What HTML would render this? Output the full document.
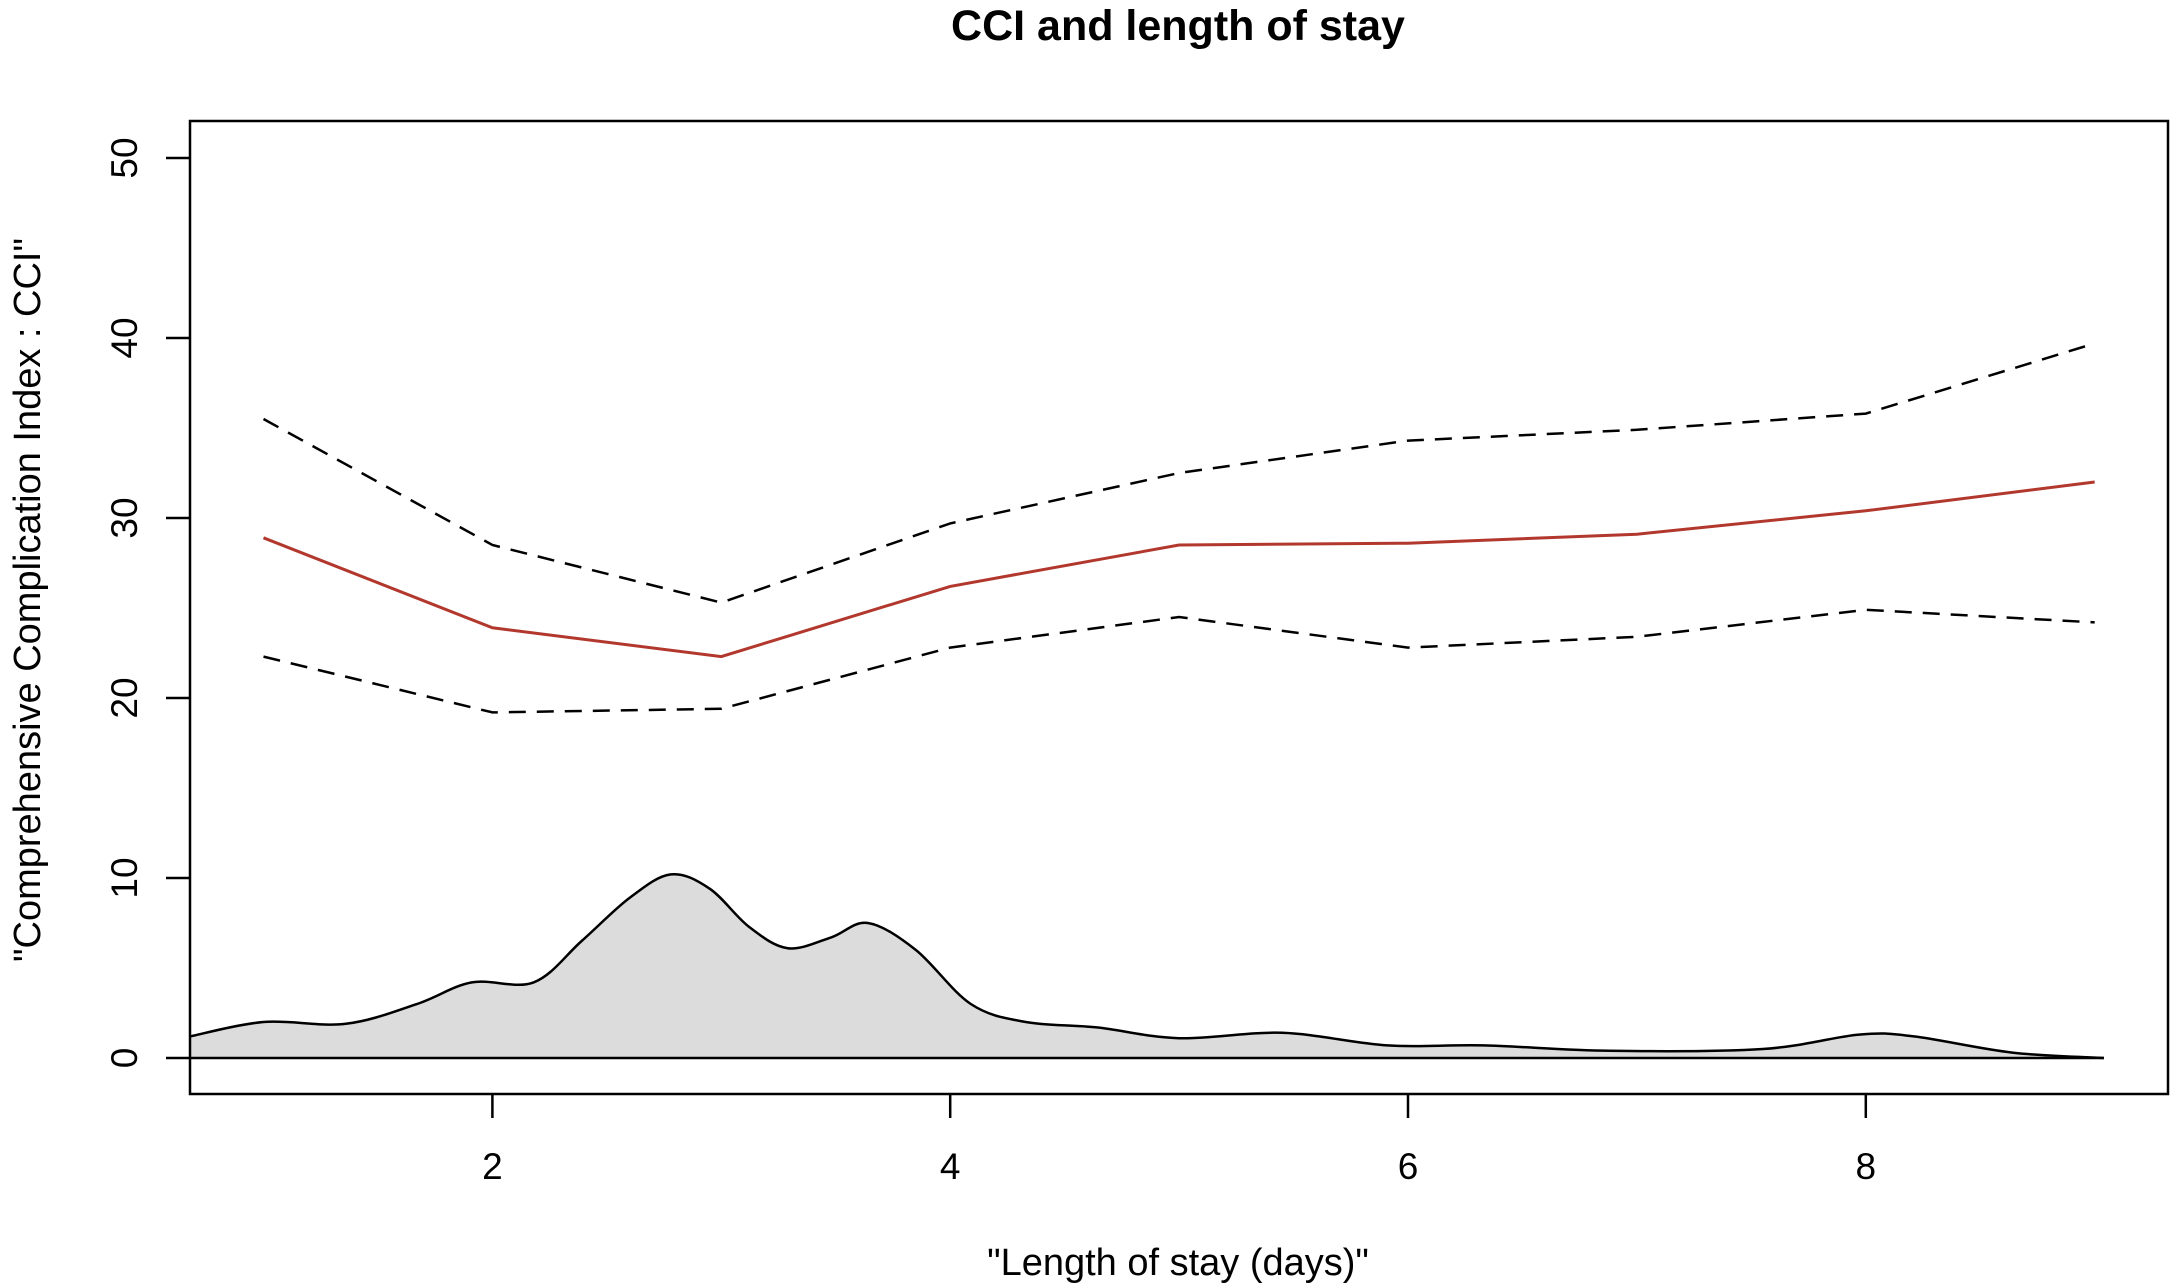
<!DOCTYPE html>
<html><head><meta charset="utf-8"><style>
html,body{margin:0;padding:0;background:#fff;}
svg{display:block;font-family:"Liberation Sans",Arial,sans-serif;}
</style></head><body>
<svg id="chart" width="2175" height="1287" viewBox="0 0 2175 1287" xmlns="http://www.w3.org/2000/svg">
<text x="1178" y="40" font-size="43" font-weight="bold" text-anchor="middle">CCI and length of stay</text>
<g id="density"></g>
<g id="lines"></g>
<rect x="190" y="121" width="1978" height="973" fill="none" stroke="#000" stroke-width="2.5"/>
<g id="axes"></g>
<text x="1178" y="1275" font-size="38" text-anchor="middle">"Length of stay (days)"</text>
<text transform="translate(40,600) rotate(-90)" font-size="38" text-anchor="middle">"Comprehensive Complication Index : CCI"</text>
</svg>
<script>
const xCats = [1,2,3,4,5,6,7,8,9];
const meanCCI = [28.9,23.9,22.3,26.2,28.5,28.6,29.1,30.4,32.0];
const upperCI = [35.5,28.5,25.3,29.7,32.5,34.3,34.9,35.8,39.7];
const lowerCI = [22.3,19.2,19.4,22.8,24.5,22.8,23.4,24.9,24.2];
const densX = [0.68,1.0,1.36,1.67,1.91,2.18,2.39,2.6,2.78,2.95,3.12,3.29,3.48,3.64,3.85,4.09,4.33,4.64,5.0,5.45,5.91,6.33,6.88,7.55,7.97,8.21,8.64,9.04];
const densY = [1.2,2.0,1.9,3.0,4.2,4.2,6.5,8.9,10.2,9.4,7.3,6.1,6.7,7.5,6.0,3.0,2.0,1.7,1.1,1.4,0.7,0.7,0.4,0.5,1.3,1.2,0.3,0.0];
const xTicks = [2,4,6,8];
const yTicks = [0,10,20,30,40,50];

const NS='http://www.w3.org/2000/svg';
const xs = v => 492.4 + (v-2)*228.9;
const ys = v => 1058 - v*18.0;
function mk(tag, attrs, parent){const e=document.createElementNS(NS,tag);for(const k in attrs)e.setAttribute(k,attrs[k]);parent.appendChild(e);return e;}

const pts = densX.map((x,i)=>[xs(x),ys(densY[i])]);
let d = `M${pts[0][0]},${pts[0][1]}`;
for(let i=0;i<pts.length-1;i++){
  const p0=pts[Math.max(i-1,0)],p1=pts[i],p2=pts[i+1],p3=pts[Math.min(i+2,pts.length-1)];
  const c1=[p1[0]+(p2[0]-p0[0])/6,p1[1]+(p2[1]-p0[1])/6];
  const c2=[p2[0]-(p3[0]-p1[0])/6,p2[1]-(p3[1]-p1[1])/6];
  d+=` C${c1[0]},${c1[1]} ${c2[0]},${c2[1]} ${p2[0]},${p2[1]}`;
}
const dg=document.getElementById('density');
const fillD = d + ` L${pts[pts.length-1][0]},${ys(0)} L${pts[0][0]},${ys(0)} Z`;
const fa=mk('path',{d:fillD,fill:'#dcdcdc',stroke:'none'},dg);


const fl=mk('path',{d:d,fill:'none',stroke:'#000','stroke-width':2.5},dg);


const bl=mk('line',{x1:xs(densX[0]),x2:xs(densX[densX.length-1]),y1:ys(0),y2:ys(0),stroke:'#000','stroke-width':2.5},dg);



const lg=document.getElementById('lines');
function poly(vals){return xCats.map((x,i)=>`${xs(x)},${ys(vals[i])}`).join(' ');}
const up=mk('polyline',{points:poly(upperCI),fill:'none',stroke:'#000','stroke-width':2.5,'stroke-dasharray':'17,11'},lg);


const lo=mk('polyline',{points:poly(lowerCI),fill:'none',stroke:'#000','stroke-width':2.5,'stroke-dasharray':'17,11'},lg);


const mn=mk('polyline',{points:poly(meanCCI),fill:'none',stroke:'#b2382e','stroke-width':3},lg);



const ag=document.getElementById('axes');
xTicks.forEach(t=>{
  const l=mk('line',{x1:xs(t),x2:xs(t),y1:1094,y2:1118,stroke:'#000','stroke-width':2.5},ag);
  
  
  const tx=mk('text',{x:xs(t),y:1179,'font-size':37,'text-anchor':'middle'},ag);
  tx.textContent=t;
  
  
});
yTicks.forEach(t=>{
  const l=mk('line',{x1:166,x2:190,y1:ys(t),y2:ys(t),stroke:'#000','stroke-width':2.5},ag);
  
  
  const tx=mk('text',{'font-size':37,'text-anchor':'middle',transform:`translate(137,${ys(t)}) rotate(-90)`},ag);
  tx.textContent=t;
  
  
});
</script>
</body></html>
